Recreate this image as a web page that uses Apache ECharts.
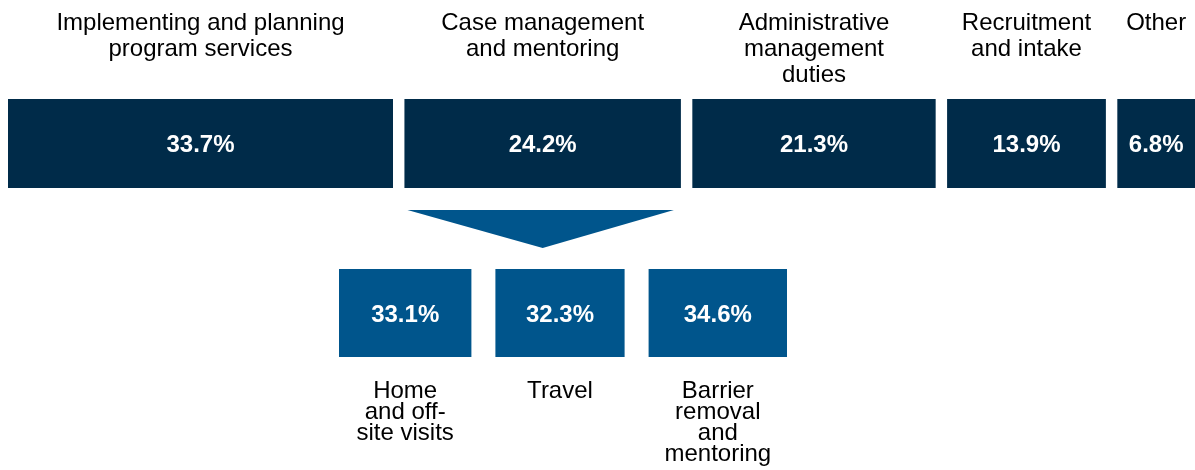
<!DOCTYPE html>
<html>
<head>
<meta charset="utf-8">
<title>Share of time by activity</title>
<script src="https://cdn.jsdelivr.net/npm/echarts@6/dist/echarts.min.js"></script>
<style>
    html, body { margin: 0; padding: 0; background: #fff; }
    #chart { width: 1195px; height: 470px; }
</style>
</head>
<body>
<div id="chart"></div>
<script>
// top row: share of time by activity
const topCategories = [
    'Implementing and planning\nprogram services',
    'Case management\nand mentoring',
    'Administrative\nmanagement\nduties',
    'Recruitment\nand intake',
    'Other'
];
const topValues = [33.7, 24.2, 21.3, 13.9, 6.8];

// breakdown of the "Case management and mentoring" bar
const breakdownOf = 1;
const subCategories = [
    'Home\nand off-\nsite visits',
    'Travel',
    'Barrier\nremoval\nand\nmentoring'
];
const subValues = [33.1, 32.3, 34.6];

const FONT = '"Liberation Sans", Arial, sans-serif';
const TOP_COLOR = '#002B49';
const SUB_COLOR = '#00558C';
const TOP_GAP = 1.0;   // gap between boxes, in value units
const SUB_GAP = 6;

// [start, value, index] so boxes sit side by side on a value axis
function buildRows(values, gap) {
    let start = 0;
    return values.map((v, i) => {
        const row = [start, v, i];
        start += v + gap;
        return row;
    });
}
function total(values, gap) {
    return values.reduce((a, b) => a + b, 0) + gap * (values.length - 1);
}

function boxRenderer(names, color, labelY, labelLineHeight, withArrow) {
    return function (params, api) {
        const start = api.value(0);
        const val = api.value(1);
        const idx = api.value(2);
        const p0 = api.coord([start, 1]);
        const p1 = api.coord([start + val, 0]);
        const x0 = p0[0], y0 = p0[1], x1 = p1[0], y1 = p1[1];
        const cx = (x0 + x1) / 2;
        const children = [
            {
                type: 'rect',
                shape: { x: x0, y: y0, width: x1 - x0, height: y1 - y0 },
                style: { fill: color }
            },
            {
                type: 'text',
                x: cx,
                y: (y0 + y1) / 2 + 2,
                style: {
                    text: val.toFixed(1) + '%',
                    fill: '#fff',
                    fontSize: 24,
                    fontWeight: 'bold',
                    fontFamily: FONT,
                    align: 'center',
                    verticalAlign: 'middle'
                }
            },
            {
                type: 'text',
                x: cx,
                y: labelY(y0, y1),
                style: {
                    text: names[idx],
                    fill: '#000',
                    fontSize: 24,
                    fontFamily: FONT,
                    align: 'center',
                    verticalAlign: 'top',
                    lineHeight: labelLineHeight
                }
            }
        ];
        // arrow pointing from the broken-down bar to the sub row
        if (withArrow && idx === breakdownOf) {
            children.push({
                type: 'polygon',
                shape: { points: [[x0 + 3, y1 + 22], [x1 - 7, y1 + 22], [cx, y1 + 60]] },
                style: { fill: SUB_COLOR }
            });
        }
        return { type: 'group', children: children };
    };
}

const myChart = echarts.init(document.getElementById('chart'));

const options = {
    animation: false,
    grid: [
        { left: 8, right: 0, top: 99, height: 89 },
        { left: 339, right: 408, top: 269, height: 88 }
    ],
    xAxis: [
        { type: 'value', gridIndex: 0, min: 0, max: total(topValues, TOP_GAP), show: false },
        { type: 'value', gridIndex: 1, min: 0, max: total(subValues, SUB_GAP), show: false }
    ],
    yAxis: [
        { type: 'value', gridIndex: 0, min: 0, max: 1, show: false },
        { type: 'value', gridIndex: 1, min: 0, max: 1, show: false }
    ],
    series: [
        {
            type: 'custom',
            xAxisIndex: 0,
            yAxisIndex: 0,
            renderItem: boxRenderer(topCategories, TOP_COLOR, (y0) => y0 - 89, 26, true),
            data: buildRows(topValues, TOP_GAP)
        },
        {
            type: 'custom',
            xAxisIndex: 1,
            yAxisIndex: 1,
            renderItem: boxRenderer(subCategories, SUB_COLOR, (y0, y1) => y1 + 24, 21, false),
            data: buildRows(subValues, SUB_GAP)
        }
    ]
};

myChart.setOption(options);
</script>
</body>
</html>
